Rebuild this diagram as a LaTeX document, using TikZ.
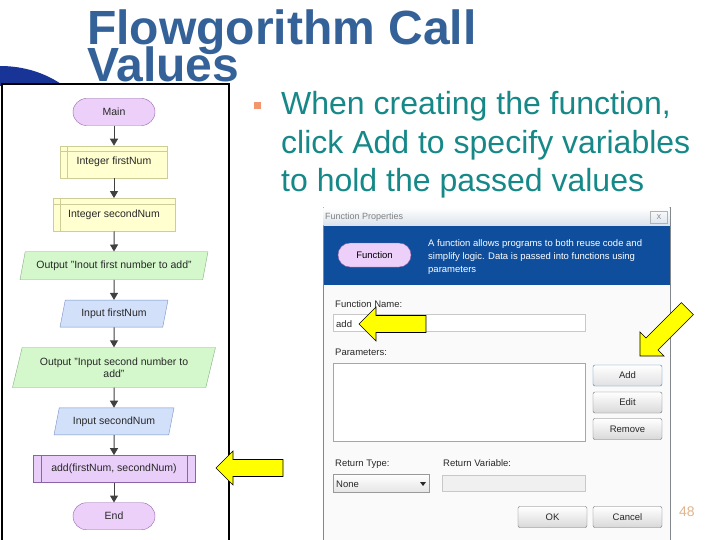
\documentclass[tikz,border=0pt]{standalone}
\usepackage{fontspec}
\setmainfont{Liberation Sans}
\usetikzlibrary{positioning,shapes.geometric,arrows.meta}
\definecolor{titleblue}{RGB}{52,98,152}
\definecolor{arcblue}{RGB}{24,52,150}
\definecolor{bullettext}{RGB}{22,136,136}
\definecolor{bulletsq}{RGB}{242,150,110}
\definecolor{pagenum}{RGB}{226,180,140}
\definecolor{termfill}{RGB}{236,208,250}
\definecolor{termborder}{RGB}{150,100,170}
\definecolor{declfill}{RGB}{255,255,208}
\definecolor{declborder}{RGB}{205,205,150}
\definecolor{outfill}{RGB}{212,248,204}
\definecolor{outborder}{RGB}{130,175,130}
\definecolor{infill}{RGB}{210,224,250}
\definecolor{inborder}{RGB}{120,145,200}
\definecolor{callfill}{RGB}{232,206,248}
\definecolor{callborder}{RGB}{140,100,165}
\definecolor{flowline}{RGB}{64,64,64}
\definecolor{fctext}{RGB}{40,40,40}
\definecolor{dlgblue}{RGB}{14,78,156}
\definecolor{dlgborder}{RGB}{130,135,140}
\definecolor{dlgbody}{RGB}{250,250,250}
\definecolor{titlebar}{RGB}{218,226,236}
\definecolor{fieldline}{RGB}{200,200,200}
\definecolor{btnborder}{RGB}{112,112,112}
\definecolor{addborder}{RGB}{60,127,177}
\definecolor{arrowyellow}{RGB}{255,255,0}
\newcommand{\fcfont}{\fontsize{10.5}{12}\selectfont}
\newcommand{\dlgfont}{\fontsize{9.5}{12.8}\selectfont}
\tikzstyle{titletext} = [text=titleblue, font=\fontsize{48}{48}\selectfont\bfseries, inner sep=0pt]
\tikzstyle{terminal} = [draw=termborder, fill=termfill, rectangle, rounded corners=13.5pt, minimum width=82pt, minimum height=27pt, font=\fcfont, text=fctext]
\tikzstyle{declare} = [draw=declborder, fill=declfill, rectangle, minimum height=32pt, font=\fcfont, text=fctext]
\tikzstyle{declrule} = [draw=declborder]
\tikzstyle{outputbox} = [draw=outborder, fill=outfill, trapezium, trapezium left angle=66, trapezium right angle=114, trapezium stretches body, font=\fcfont, text=fctext, inner sep=1pt]
\tikzstyle{inputbox} = [draw=inborder, fill=infill, trapezium, trapezium left angle=66, trapezium right angle=114, trapezium stretches body, font=\fcfont, text=fctext, inner sep=1pt]
\tikzstyle{callbox} = [draw=callborder, fill=callfill, rectangle, minimum width=162pt, minimum height=27pt, font=\fcfont, text=fctext]
\tikzstyle{flow} = [draw=flowline, line width=1pt, -{Triangle[width=8pt,length=7pt]}]
\tikzstyle{dlgtext} = [font=\dlgfont, text=fctext, inner sep=0pt]
\tikzstyle{btn} = [draw=btnborder, top color=white, bottom color=black!15, rounded corners=2pt, minimum width=69pt, minimum height=21pt, font=\dlgfont, text=fctext]
\tikzstyle{field} = [draw=fieldline, fill=white]
\tikzstyle{yarrow} = [fill=arrowyellow, draw=black, line width=0.6pt, line join=miter]

\begin{document}
\begin{tikzpicture}[x=1pt,y=-1pt]
	\useasboundingbox (0,0) rectangle (720,540);
	\fill[white] (0,0) rectangle (720,540);
	% template arc behind the flowchart
	\fill[arcblue] (0,86) -- (0,66) .. controls (24,66) and (46,73) .. (64,86) -- cycle;
	% title
	\node[titletext, anchor=base west] (titleone) at (87,45) {Flowgorithm Call};
	\node[titletext, anchor=base west] (titletwo) at (87,82) {Values};
	% bullet
	\fill[bulletsq] (254,102) rectangle (261,109);
	\node[text=bullettext, font=\fontsize{32}{38.5}\selectfont, align=left, anchor=base west, inner sep=0pt] (bullet) at (281,192) {When creating the function,\\click Add to specify variables\\to hold the passed values};
	% flowchart window
	\draw[black, line width=1.2pt, fill=white] (2,84) rectangle (229,545);
	\node[terminal] (main) at (114,112) {Main};
	\node[declare, below=20pt of main, minimum width=107pt] (intone) {Integer firstNum};
	\node[declare, below=20pt of intone, minimum width=122pt, minimum height=33pt] (inttwo) {Integer secondNum};
	\node[outputbox, below=20pt of inttwo, minimum width=188pt, minimum height=28pt] (outone) {Output "Inout first number to add"};
	\node[inputbox, below=20pt of outone, minimum width=108pt, minimum height=27pt] (inone) {Input firstNum};
	\node[outputbox, below=20pt of inone, minimum width=203pt, minimum height=40pt, align=center] (outtwo) {Output "Input second number to\\add"};
	\node[inputbox, below=20pt of outtwo, minimum width=120pt, minimum height=27pt] (intwo) {Input secondNum};
	\node[callbox, below=20pt of intwo] (call) {add(firstNum, secondNum)};
	\node[terminal, below=20pt of call] (end) {End};
	\foreach \n in {intone,inttwo} {
		\draw[declrule] ([yshift=-6pt]\n.north west) -- ([yshift=-6pt]\n.north east);
		\draw[declrule] ([xshift=7pt]\n.north west) -- ([xshift=7pt]\n.south west);
	}
	\draw[callborder] ([xshift=8pt]call.north west) -- ([xshift=8pt]call.south west);
	\draw[callborder] ([xshift=-8pt]call.north east) -- ([xshift=-8pt]call.south east);
	\foreach \a/\b in {main/intone,intone/inttwo,inttwo/outone,outone/inone,inone/outtwo,outtwo/intwo,intwo/call,call/end}
		\draw[flow] (\a) -- (\b);
	% function properties dialog
	\draw[dlgborder, fill=dlgbody] (323,207) rectangle (670,541);
	\shade[top color=white, bottom color=titlebar] (323.5,207.5) rectangle (669.5,226);
	\node[dlgtext, anchor=west, text=gray, font=\fontsize{9}{11}\selectfont] (dlgtitle) at (325,217) {Function Properties};
	\node[draw=gray!60, text=gray, font=\fontsize{7}{8}\selectfont, minimum width=17pt, minimum height=12pt, inner sep=0pt] (closebtn) at (659,217) {X};
	\fill[dlgblue] (323.5,226) rectangle (669.5,285);
	\node[draw=termborder, fill=termfill, rounded corners=12pt, minimum width=73pt, minimum height=24pt, font=\dlgfont, text=black] (fnpill) at (374.5,255) {Function};
	\node[dlgtext, text=white, align=left, anchor=base west] (fndesc) at (428,272.5) {A function allows programs to both reuse code and\\simplify logic. Data is passed into functions using\\parameters};
	\node[dlgtext, anchor=base west] (namelabel) at (335,307.5) {Function Name:};
	\draw[field] (333,314) rectangle (585,331);
	\node[dlgtext, anchor=base west] (nametext) at (336,327) {add};
	\node[dlgtext, anchor=base west] (paramlabel) at (335,355.5) {Parameters:};
	\draw[field, draw=gray!70] (333,363) rectangle (585,441);
	\node[btn, draw=addborder, top color=white, bottom color=blue!8!black!12] (addbtn) at (627.5,375.5) {Add};
	\node[btn] (editbtn) at (627.5,402.5) {Edit};
	\node[btn] (removebtn) at (627.5,429) {Remove};
	\node[dlgtext, anchor=base west] (typelabel) at (335,466.5) {Return Type:};
	\node[dlgtext, anchor=base west] (varlabel) at (443,466.5) {Return Variable:};
	\shade[draw=gray!80, top color=white, bottom color=black!10] (333,474) rectangle (429,492);
	\node[dlgtext, anchor=base west] (typetext) at (336,487.5) {None};
	\fill[fctext] (420,482) -- (426,482) -- (423,486) -- cycle;
	\draw[fieldline, fill=black!6] (442,475) rectangle (585,491);
	\node[btn] (okbtn) at (552.5,517) {OK};
	\node[btn] (cancelbtn) at (627.5,517) {Cancel};
	% slide number
	\node[font=\fontsize{14}{16}\selectfont, text=pagenum, anchor=base west, inner sep=0pt] (pageno) at (679,516) {48};
	% yellow pointers
	\foreach \ax/\ay/\rot in {216/468/0,359/324/0,640/356/45} {
		\begin{scope}[shift={(\ax,\ay)}, rotate=\rot]
			\draw[yarrow] (0,0) -- (17,-17) -- (17,-8.5) -- (67,-8.5) -- (67,8.5) -- (17,8.5) -- (17,17) -- cycle;
		\end{scope}
	}
\end{tikzpicture}
\end{document}
